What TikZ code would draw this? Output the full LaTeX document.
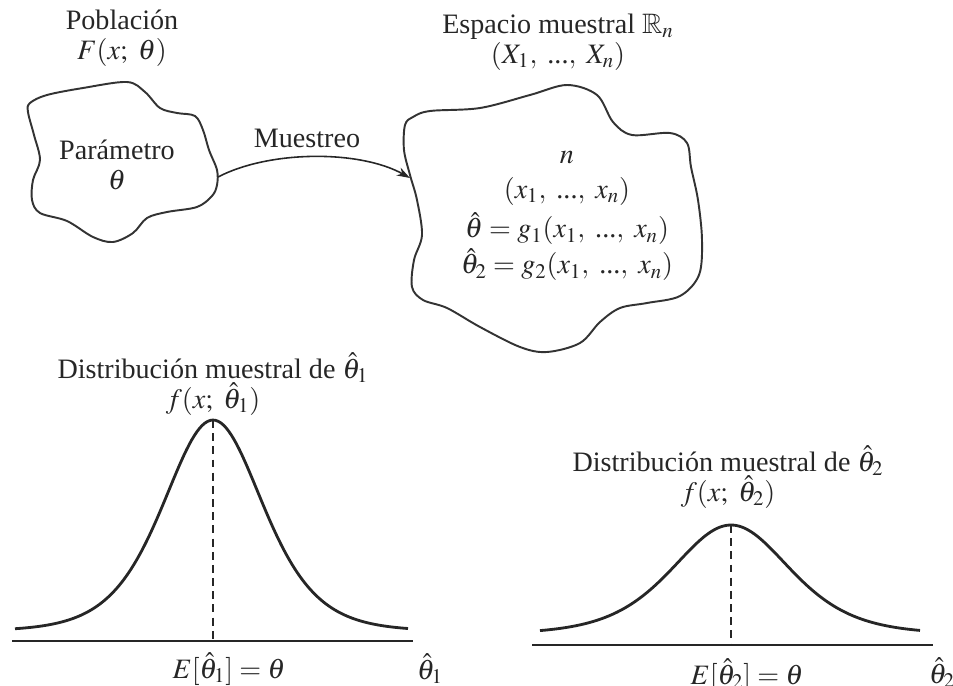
\documentclass[tikz,border=0pt]{standalone}
\usepackage{amsmath,amssymb}
\usepackage{mathptmx}
\usepackage{fontspec}
\setmainfont{Liberation Serif}
\usetikzlibrary{arrows.meta}

\begin{document}
\begin{tikzpicture}[
    x=0.02cm, y=-0.02cm,
    >={Stealth[length=7.5pt,width=5pt]},
    every node/.style={font=\fontsize{16}{17}\selectfont, text=black!85, align=center, inner sep=0pt},
    blob/.style={draw=black!80, line width=1.1pt},
    campana/.style={draw=black!85, line width=1.6pt},
    eje/.style={draw=black!85, line width=0.9pt},
    media/.style={draw=black!85, line width=0.7pt, dash pattern=on 4.5pt off 3pt}
]
    \useasboundingbox (0,0) rectangle (953,686);

    % poblacion y espacio muestral
    \draw[blob] plot[smooth cycle, tension=0.55] coordinates {
        (30,103) (47,95) (83,88) (127,82) (145,92) (160,108) (177,113) (195,116)
        (203,130) (209,150) (217,170) (217,185) (212,196) (197,207) (167,212)
        (147,218) (133,233) (113,242) (93,237) (67,221) (40,213) (32,200)
        (33,180) (40,160) (34,135) (28,112)};
    \draw[blob] plot[smooth cycle, tension=0.55] coordinates {
        (413,117) (430,111) (480,108) (530,95) (567,85) (597,95) (613,122)
        (632,135) (670,133) (687,143) (691,167) (698,200) (702,240) (699,275)
        (680,296) (647,303) (620,308) (600,322) (580,343) (547,352) (520,347)
        (480,327) (447,308) (423,300) (412,287) (414,260) (422,235) (417,200)
        (410,175) (404,150) (405,125)};

    \node (pobl) at (122,38) {Población\\$F(x;\ \theta)$};
    \node (param) at (117,165) {Parámetro\\$\theta$};
    \node (espacio) at (558,42) {Espacio muestral $\mathbb{R}_n$\\$(X_1,\ \text{...},\ X_n)$};
    \node (muestra) at (567,216) {$n$\\[3pt]
        $(x_1,\ \text{...},\ x_n)$\\[3pt]
        $\hat{\theta} = g_1(x_1,\ \text{...},\ x_n)$\\[1pt]
        $\hat{\theta}_2 = g_2(x_1,\ \text{...},\ x_n)$};

    \coordinate (salida) at (218,177);
    \coordinate (entrada) at (410,178);
    \draw[->, line width=0.9pt, black!85] (salida) .. controls (270,150) and (360,150) .. (entrada);
    \node (muestreo) at (307,138) {Muestreo};

    % distribucion de theta_1
    \coordinate (pico1) at (213,420);
    \coordinate (base1) at (213,641);
    \draw[eje] (12,641) -- (413,641);
    \draw[media] (pico1) -- (base1);
    \draw[campana] plot[domain=15:408, samples=150] (\x, {631-211/(cosh((\x-213)/67))^2});
    \node (tit1) at (213,384) {Distribución muestral de $\hat{\theta}_1$\\$f(x;\ \hat{\theta}_1)$};
    \node (esp1) at (229,669) {$E[\hat{\theta}_1] = \theta$};
    \node (eje1) at (430,669) {$\hat{\theta}_1$};

    % distribucion de theta_2
    \coordinate (pico2) at (731,525);
    \coordinate (base2) at (731,645);
    \draw[eje] (532,645) -- (933,645);
    \draw[media] (pico2) -- (base2);
    \draw[campana] plot[domain=540:920, samples=150] (\x, {634-109/(cosh((\x-731)/79))^2});
    \node (tit2) at (728,477) {Distribución muestral de $\hat{\theta}_2$\\$f(x;\ \hat{\theta}_2)$};
    \node (esp2) at (747,675) {$E[\hat{\theta}_2] = \theta$};
    \node (eje2) at (942,673) {$\hat{\theta}_2$};
\end{tikzpicture}
\end{document}
